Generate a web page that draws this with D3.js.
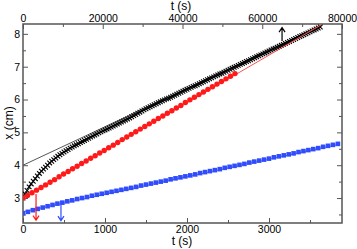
<!DOCTYPE html>
<html>
<head>
<meta charset="utf-8">
<script src="https://cdn.jsdelivr.net/npm/d3@7"></script>
<style>
body { margin: 0; background: #fff; }
text { font-family: "Liberation Sans", Arial, sans-serif; }
</style>
</head>
<body>
<script>
// black crosses (bottom axis time, every 25 s)
var blackT = [0,25,50,75,100,125,150,175,200,225,250,275,300,325,350,375,400,425,450,475,500,525,550,575,
	600,625,650,675,700,725,750,775,800,825,850,875,900,925,950,975,1000,1025,1050,1075,1100,1125,1150,1175,
	1200,1225,1250,1275,1300,1325,1350,1375,1400,1425,1450,1475,1500,1525,1550,1575,1600,1625,1650,1675,
	1700,1725,1750,1775,1800,1825,1850,1875,1900,1925,1950,1975,2000,2025,2050,2075,2100,2125,2150,2175,
	2200,2225,2250,2275,2300,2325,2350,2375,2400,2425,2450,2475,2500,2525,2550,2575,2600,2625,2650,2675,
	2700,2725,2750,2775,2800,2825,2850,2875,2900,2925,2950,2975,3000,3025,3050,3075,3100,3125,3150,3175,
	3200,3225,3250,3275,3300,3325,3350,3375,3400,3425,3450,3475,3500,3525,3550,3575,3600,3625];
var blackX = [3.00,3.12,3.23,3.34,3.43,3.51,3.59,3.67,3.75,3.82,3.88,3.94,4.00,4.07,4.12,4.17,4.22,4.27,4.32,4.36,4.40,4.44,4.48,4.52,
	4.555,4.59,4.62,4.655,4.69,4.72,4.755,4.79,4.82,4.855,4.89,4.92,4.95,4.985,5.015,5.045,5.075,5.105,5.135,5.165,5.195,5.225,5.255,5.285,
	5.315,5.345,5.375,5.405,5.44,5.475,5.51,5.545,5.58,5.615,5.65,5.685,5.72,5.75,5.78,5.81,5.84,5.87,5.90,5.93,
	5.96,5.99,6.02,6.04,6.07,6.10,6.13,6.16,6.19,6.22,6.25,6.28,6.31,6.34,6.37,6.40,6.42,6.45,6.48,6.51,
	6.54,6.57,6.60,6.63,6.66,6.69,6.72,6.75,6.78,6.80,6.83,6.86,6.89,6.92,6.95,6.98,7.01,7.04,7.07,7.10,
	7.13,7.16,7.18,7.21,7.24,7.27,7.30,7.33,7.36,7.39,7.42,7.45,7.48,7.51,7.54,7.56,7.59,7.62,7.65,7.68,
	7.71,7.74,7.77,7.80,7.83,7.86,7.89,7.92,7.94,7.97,8.00,8.03,8.06,8.09,8.12,8.15,8.18,8.21];

// red circles
var redT = [0,55,110,165,220,275,330,385,440,495,550,605,660,715,770,825,880,935,990,1045,1100,1155,1210,1265,
	1320,1375,1430,1485,1540,1595,1650,1705,1760,1815,1870,1925,1980,2035,2090,2145,2200,2255,2310,2365,2420,2475,2530,2585];
var redX = [3.00,3.08,3.16,3.24,3.32,3.40,3.48,3.56,3.65,3.73,3.81,3.89,3.97,4.05,4.13,4.21,4.29,4.37,4.45,4.53,4.61,4.69,4.78,4.86,
	4.94,5.02,5.10,5.18,5.26,5.34,5.42,5.50,5.58,5.66,5.74,5.82,5.91,5.99,6.07,6.15,6.23,6.31,6.39,6.47,6.55,6.63,6.71,6.79];

// blue squares
var blueT = [0,60,120,180,240,300,360,420,480,540,600,660,720,780,840,900,960,1020,1080,1140,1200,1260,1320,1380,
	1440,1500,1560,1620,1680,1740,1800,1860,1920,1980,2040,2100,2160,2220,2280,2340,2400,2460,2520,2580,2640,2700,
	2760,2820,2880,2940,3000,3060,3120,3180,3240,3300,3360,3420,3480,3540,3600,3660,3720,3780,3840];
var blueX = [2.54,2.58,2.63,2.67,2.71,2.75,2.79,2.83,2.86,2.90,2.93,2.97,3.00,3.03,3.07,3.10,3.13,3.16,3.19,3.22,3.25,3.28,3.31,3.34,
	3.38,3.41,3.44,3.47,3.50,3.53,3.57,3.60,3.63,3.66,3.69,3.72,3.76,3.79,3.82,3.85,3.88,3.92,3.95,3.98,4.01,4.04,
	4.08,4.11,4.14,4.17,4.20,4.24,4.27,4.30,4.33,4.36,4.40,4.43,4.46,4.49,4.52,4.56,4.59,4.62,4.65];

// straight fit lines [t, x]
var blackFit = [[0,4.00],[3640,8.26]];
var redFit = [[0,3.00],[3640,8.28]];
var blueFit = [[0,2.58],[3860,4.64]];

// arrows: t (bottom scale), x from, x to
var arrowT = [3159, 159, 463];
var arrowFrom = [7.78, 3.12, 2.80];
var arrowTo = [8.19, 2.33, 2.31];
var arrowCol = ["#000", "#ff1a1a", "#2f4cff"];

var bottomTicks = [0,1000,2000,3000];
var topTicks = [0,20000,40000,60000,80000];
var yTicks = [3,4,5,6,7,8];

var W = 357, H = 249;
var L = 23, R = 342, T = 24, B = 223;

var svg = d3.select("body").append("svg")
	.attr("width", W)
	.attr("height", H);

var x = d3.scaleLinear().domain([0, 3890]).range([L, R]);
var xTop = d3.scaleLinear().domain([0, 80000]).range([L, R]);
var y = d3.scaleLinear().domain([2.24, 8.3]).range([B, T]);

svg.append("clipPath").attr("id", "clip")
	.append("rect").attr("x", L).attr("y", T).attr("width", R - L).attr("height", B - T);

var axisCol = "#555";
var fmt = d3.format("d");

function styleAxis(g, labels)
{
	g.selectAll(".domain").remove();
	g.selectAll(".tick line").attr("stroke", axisCol).attr("stroke-width", 1);
	g.selectAll(".tick text").attr("fill", "#000").attr("font-size", 10.5);
	if(!labels)
		g.selectAll(".tick text").remove();
}

// bottom
var gb = svg.append("g").attr("transform", "translate(0," + B + ")")
	.call(d3.axisBottom(x).tickValues(bottomTicks).tickFormat(fmt).tickSize(-5).tickPadding(2.5));
styleAxis(gb, true);
var gbm = svg.append("g").attr("transform", "translate(0," + B + ")")
	.call(d3.axisBottom(x).tickValues([500,1500,2500,3500]).tickSize(-3).tickFormat(""));
styleAxis(gbm, false);

// top
var gt = svg.append("g").attr("transform", "translate(0," + T + ")")
	.call(d3.axisTop(xTop).tickValues(topTicks).tickFormat(fmt).tickSize(-5).tickPadding(2));
styleAxis(gt, true);
var gtm = svg.append("g").attr("transform", "translate(0," + T + ")")
	.call(d3.axisTop(xTop).tickValues([10000,30000,50000,70000]).tickSize(-3).tickFormat(""));
styleAxis(gtm, false);

// left
var gl = svg.append("g").attr("transform", "translate(" + L + ",0)")
	.call(d3.axisLeft(y).tickValues(yTicks).tickFormat(fmt).tickSize(-5).tickPadding(3));
styleAxis(gl, true);
var glm = svg.append("g").attr("transform", "translate(" + L + ",0)")
	.call(d3.axisLeft(y).tickValues([2.5,3.5,4.5,5.5,6.5,7.5]).tickSize(-3).tickFormat(""));
styleAxis(glm, false);

// right
var gr = svg.append("g").attr("transform", "translate(" + R + ",0)")
	.call(d3.axisRight(y).tickValues(yTicks).tickSize(-5));
styleAxis(gr, false);
var grm = svg.append("g").attr("transform", "translate(" + R + ",0)")
	.call(d3.axisRight(y).tickValues([2.5,3.5,4.5,5.5,6.5,7.5]).tickSize(-3).tickFormat(""));
styleAxis(grm, false);

// frame
svg.append("rect")
	.attr("x", L).attr("y", T)
	.attr("width", R - L).attr("height", B - T)
	.attr("fill", "none").attr("stroke", axisCol).attr("stroke-width", 1.5);

// axis titles
svg.append("text").attr("x", 181).attr("y", 9.5).attr("text-anchor", "middle")
	.attr("font-size", 12).text("t (s)");
svg.append("text").attr("x", 182).attr("y", 245).attr("text-anchor", "middle")
	.attr("font-size", 12).text("t (s)");
svg.append("text").attr("transform", "translate(12.5,123) rotate(-90)")
	.attr("text-anchor", "middle").attr("font-size", 12).text("x (cm)");

var plot = svg.append("g").attr("clip-path", "url(#clip)");
var line = d3.line().x(function(d){ return x(d[0]); }).y(function(d){ return y(d[1]); });

plot.append("path").attr("d", line(blackFit))
	.attr("fill", "none").attr("stroke", "#555").attr("stroke-width", 1);

var cross = d3.symbol().type(d3.symbolTimes).size(16);
plot.selectAll("path.bk").data(blackT).enter().append("path")
	.attr("class", "bk")
	.attr("d", cross())
	.attr("transform", function(d, i){ return "translate(" + x(d) + "," + y(blackX[i]) + ")"; })
	.attr("fill", "none").attr("stroke", "#000").attr("stroke-width", 1.1);

plot.append("path").attr("d", line(redFit))
	.attr("fill", "none").attr("stroke", "#ff5050").attr("stroke-width", 1);

plot.selectAll("circle.rd").data(redT).enter().append("circle")
	.attr("class", "rd")
	.attr("cx", function(d){ return x(d); })
	.attr("cy", function(d, i){ return y(redX[i]); })
	.attr("r", 2.7)
	.attr("fill", "#ff1a1a");

plot.append("path").attr("d", line(blueFit))
	.attr("fill", "none").attr("stroke", "#777").attr("stroke-width", 1);

plot.selectAll("rect.bl").data(blueT).enter().append("rect")
	.attr("class", "bl")
	.attr("x", function(d){ return x(d) - 2.3; })
	.attr("y", function(d, i){ return y(blueX[i]) - 2.3; })
	.attr("width", 4.6).attr("height", 4.6)
	.attr("fill", "#2f4cff");

// arrows
for(var i = 0; i < arrowT.length; i++)
{
	var ax = x(arrowT[i]), y0 = y(arrowFrom[i]), y1 = y(arrowTo[i]);
	var dir = y1 > y0 ? -1 : 1;
	svg.append("path")
		.attr("d", "M" + ax + "," + y0 + "L" + ax + "," + y1 +
			"M" + (ax - 3) + "," + (y1 + dir * 4.5) + "L" + ax + "," + y1 + "L" + (ax + 3) + "," + (y1 + dir * 4.5))
		.attr("fill", "none").attr("stroke", arrowCol[i]).attr("stroke-width", 1.2);
}
</script>
</body>
</html>
